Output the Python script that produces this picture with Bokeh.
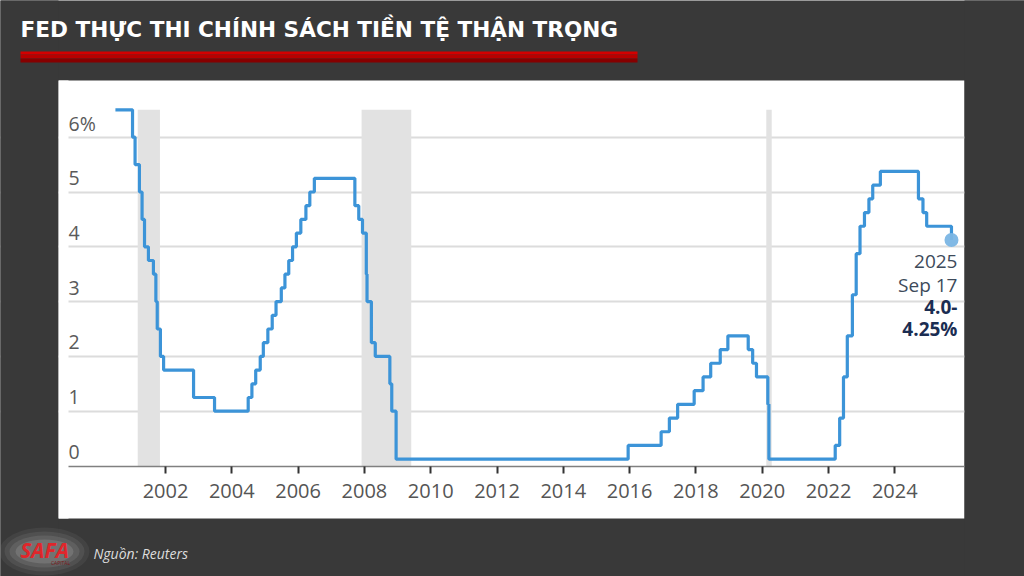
import pandas as pd
from bokeh.plotting import figure
from bokeh.models import Range1d, FixedTicker
from bokeh.core.properties import value
from bokeh.embed import file_html
from bokeh.resources import INLINE

# ---------------- data ----------------
title_text = "FED THỰC THI CHÍNH SÁCH TIỀN TỆ THẬN TRỌNG"
source_text = "Nguồn: Reuters"

decision_dates = [
    "2000-06-28", "2001-01-03", "2001-01-31", "2001-03-20", "2001-04-18", "2001-05-15",
    "2001-06-27", "2001-08-21", "2001-09-17", "2001-10-02", "2001-11-06", "2001-12-11",
    "2002-11-06", "2003-06-25", "2004-06-30", "2004-08-10", "2004-09-21", "2004-11-10",
    "2004-12-14", "2005-02-02", "2005-03-22", "2005-05-03", "2005-06-30", "2005-08-09",
    "2005-09-20", "2005-11-01", "2005-12-13", "2006-01-31", "2006-03-28", "2006-05-10",
    "2006-06-29", "2007-09-18", "2007-10-31", "2007-12-11", "2008-01-22", "2008-01-30",
    "2008-03-18", "2008-04-30", "2008-10-08", "2008-10-29", "2008-12-16", "2015-12-16",
    "2016-12-14", "2017-03-15", "2017-06-14", "2017-12-13", "2018-03-21", "2018-06-13",
    "2018-09-26", "2018-12-19", "2019-07-31", "2019-09-18", "2019-10-30", "2020-03-03",
    "2020-03-15", "2022-03-16", "2022-05-04", "2022-06-15", "2022-07-27", "2022-09-21",
    "2022-11-02", "2022-12-14", "2023-02-01", "2023-03-22", "2023-05-03", "2023-07-26",
    "2024-09-18", "2024-11-07", "2024-12-18", "2025-09-17",
]
fed_rate = [
    6.5, 6.0, 5.5, 5.0, 4.5, 4.0,
    3.75, 3.5, 3.0, 2.5, 2.0, 1.75,
    1.25, 1.0, 1.25, 1.5, 1.75, 2.0,
    2.25, 2.5, 2.75, 3.0, 3.25, 3.5,
    3.75, 4.0, 4.25, 4.5, 4.75, 5.0,
    5.25, 4.75, 4.5, 4.25, 3.5, 3.0,
    2.25, 2.0, 1.5, 1.0, 0.125, 0.375,
    0.625, 0.875, 1.125, 1.375, 1.625, 1.875,
    2.125, 2.375, 2.125, 1.875, 1.625, 1.125,
    0.125, 0.375, 0.875, 1.625, 2.375, 3.125,
    3.875, 4.375, 4.625, 4.875, 5.125, 5.375,
    4.875, 4.625, 4.375, 4.125,
]

recession_start = ["2001-03-01", "2007-12-01", "2020-02-15"]
recession_end = ["2001-11-01", "2009-06-01", "2020-04-15"]
recession_top = 6.5

x_ticks = [2002, 2004, 2006, 2008, 2010, 2012, 2014, 2016, 2018, 2020, 2022, 2024]
x_tick_labels = ["2002", "2004", "2006", "2008", "2010", "2012", "2014", "2016",
                 "2018", "2020", "2022", "2024"]
y_ticks = [0, 1, 2, 3, 4, 5, 6]
y_tick_labels = ["0", "1", "2", "3", "4", "5", "6%"]

end_note_lines = ["2025", "Sep 17", "4.0-", "4.25%"]
end_note_bold = [False, False, True, True]


def dec_year(s):
    d = pd.Timestamp(s)
    n = 366 if d.is_leap_year else 365
    return d.year + (d.dayofyear - 1) / n


xs = [dec_year(d) for d in decision_dates]
rec_l = [dec_year(d) for d in recession_start]
rec_r = [dec_year(d) for d in recession_end]

# ---------------- style / layout ----------------
BG = "#393939"
LINE = "#3c94d8"
FONT = "Open Sans"
W, H = 1024, 576
PX_PER_YEAR = 33.15
PX_PER_UNIT = 54.8
X2002_PX = 165.0      # screen x of the 2002 tick
ZERO_PX = 465.5       # screen y of the 0 % baseline


def X(px):
    """screen x -> year"""
    return 2002 + (px - X2002_PX) / PX_PER_YEAR


def Y(py):
    """screen y -> percent"""
    return (ZERO_PX - py) / PX_PER_UNIT


panel_l, panel_r = X(58), X(964)
panel_b, panel_t = Y(518), Y(80)
x0 = X(68)            # where the grid lines / axis begin
pad = 1.0

p = figure(width=W, height=H, x_range=Range1d(X(0), X(W)), y_range=Range1d(Y(H), Y(0)),
           output_backend="svg", toolbar_location=None, y_axis_location=None,
           min_border=0)
p.outline_line_color = None
p.background_fill_color = BG
p.border_fill_color = BG
p.xgrid.visible = False
p.ygrid.ticker = FixedTicker(ticks=[t for t in y_ticks if t > 0])
p.ygrid.grid_line_color = "#dcdcdc"
p.ygrid.grid_line_width = 2

ax = p.xaxis[0]
ax.fixed_location = 0
ax.bounds = (x0, panel_r)
ax.ticker = FixedTicker(ticks=x_ticks)
ax.major_label_overrides = {t: l for t, l in zip(x_ticks, x_tick_labels)}
ax.axis_line_color = "#808080"
ax.axis_line_width = 1.5
ax.major_tick_line_color = "#333333"
ax.major_tick_line_width = 2
ax.major_tick_out = 7
ax.major_tick_in = 0
ax.minor_tick_line_color = None
ax.major_label_standoff = 11
ax.major_label_text_font = FONT
ax.major_label_text_font_size = "20px"
ax.major_label_text_color = "#555555"

# white chart panel, underneath the grid lines
p.quad(left=[panel_l], right=[panel_r], bottom=[panel_b], top=[panel_t],
       fill_color="white", line_color=None, level="underlay")
# dark page on either side of the panel (hides grid there) + white margin left of grid
p.quad(left=[X(0) - pad, panel_r], right=[panel_l, X(W) + pad],
       bottom=[Y(H) - pad, Y(H) - pad], top=[Y(0) + pad, Y(0) + pad],
       fill_color=BG, line_color=None)
p.quad(left=[panel_l], right=[x0], bottom=[panel_b], top=[panel_t],
       fill_color="white", line_color=None)

# recessions
p.quad(left=rec_l, right=rec_r, bottom=0, top=recession_top,
       fill_color="#e2e2e2", line_color=None)

# y tick labels sitting above their grid lines
p.text(x=[x0] * len(y_ticks), y=y_ticks, text=y_tick_labels, text_font=value(FONT),
       text_font_size="19.5px", text_color="#5a5a5a", text_align="left",
       text_baseline="middle", x_offset=0, y_offset=-14)

# fed funds rate
p.step(x=xs, y=fed_rate, mode="after", line_color=LINE, line_width=3.2)
p.scatter(x=[xs[-1]], y=[fed_rate[-1]], size=14, fill_color="#7ab5e4",
          line_color=None, fill_alpha=0.95)

offs = [22, 45, 67, 89]
for txt, bold, off in zip(end_note_lines, end_note_bold, offs):
    p.text(x=[xs[-1]], y=[fed_rate[-1]], text=[txt], text_font=value(FONT),
           text_font_size="19px", text_font_style="bold" if bold else "normal",
           text_color="#1b2d52" if bold else "#3d4a5a", text_align="right",
           text_baseline="middle", x_offset=6, y_offset=off)

# ---------------- header ----------------
p.text(x=[X(20)], y=[Y(29)], text=[title_text], text_font=value("DejaVu Sans"),
       text_font_style="bold", text_font_size="21.6px", text_color="white",
       text_align="left", text_baseline="middle")
p.quad(left=[X(20)] * 3, right=[X(637)] * 3, top=[Y(51), Y(54), Y(58)],
       bottom=[Y(54), Y(58), Y(62)],
       fill_color=["#d40000", "#b80000", "#860000"], line_color=None)

# ---------------- footer ----------------
for w, h, a in [(90, 48, 0.05), (80, 40, 0.07), (70, 32, 0.09), (58, 24, 0.12)]:
    p.ellipse(x=[X(44)], y=[Y(551)], width=w / PX_PER_YEAR, height=h / PX_PER_UNIT,
              fill_color="white", fill_alpha=a, line_color=None)
p.text(x=[X(44)], y=[Y(549)], text=["SAFA"], text_font=value("Open Sans"),
       text_font_style="bold italic", text_font_size="21px", text_color="#e0262b",
       text_align="center", text_baseline="middle")
p.text(x=[X(60)], y=[Y(562)], text=["CAPITAL"], text_font=value("Open Sans"),
       text_font_size="5px", text_color="#7a1a1a", text_align="center",
       text_baseline="middle")
p.text(x=[X(93)], y=[Y(553)], text=[source_text], text_font=value("Open Sans"),
       text_font_style="italic", text_font_size="14px", text_color="#dddddd",
       text_align="left", text_baseline="middle")

open("out.html", "w").write(file_html(p, INLINE))
